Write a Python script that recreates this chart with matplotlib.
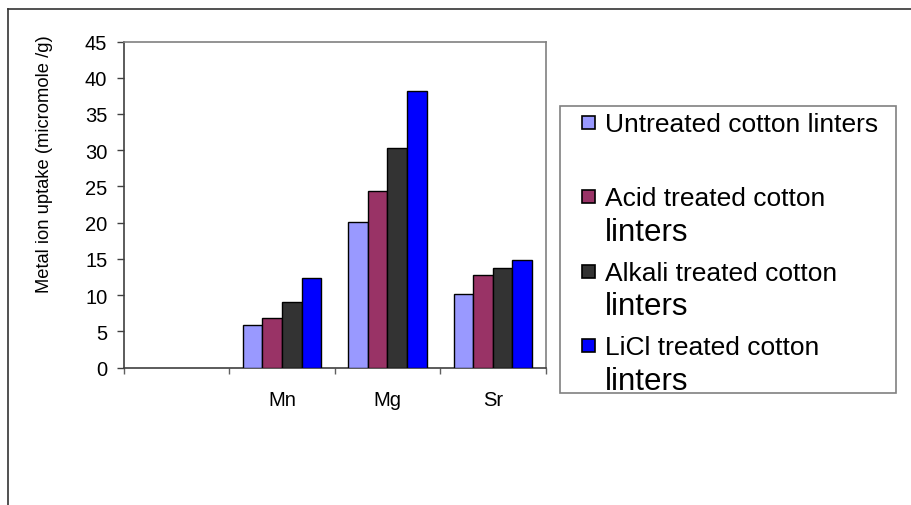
import matplotlib
matplotlib.use("Agg")
import matplotlib.pyplot as plt
from matplotlib.patches import Rectangle
from matplotlib.lines import Line2D
import numpy as np

plt.rcParams['font.family'] = ['Liberation Sans', 'DejaVu Sans']

# ---- data ----
metals = ["Mn", "Mg", "Sr"]
categories = [""] + metals
series_names = ["Untreated cotton linters", "Acid treated cotton linters",
                "Alkali treated cotton linters", "LiCl treated cotton linters"]
untreated = [5.8, 20.1, 10.2]
acid = [6.9, 24.3, 12.7]
alkali = [9.1, 30.3, 13.8]
licl = [12.4, 38.1, 14.9]
y_ticks = [0, 5, 10, 15, 20, 25, 30, 35, 40, 45]
y_label = "Metal ion uptake (micromole /g)"

colors = ["#9999FF", "#993366", "#333333", "#0000FF"]
series = [untreated, acid, alkali, licl]

W, H = 911, 506
fig = plt.figure(figsize=(W / 100, H / 100), dpi=100)


def fx(x):
    return x / W


def fy(y):
    return 1 - y / H


ax_l, ax_r, ax_t, ax_b = 124, 545.5, 42.5, 368.5
ax = fig.add_axes([fx(ax_l), fy(ax_b), fx(ax_r - ax_l), (ax_b - ax_t) / H])

bw = 0.186
x_cat = np.arange(len(categories))
x_metal = x_cat[1:]
for i, (vals, c, name) in enumerate(zip(series, colors, series_names)):
    ax.bar(x_metal + (i - 1.5) * bw, vals, width=bw, color=c,
           edgecolor="black", linewidth=1.0, label=name, zorder=3)

ax.set_xlim(-0.5, len(categories) - 0.5)
ax.set_ylim(0, 45)
ax.set_yticks(y_ticks)
ax.set_yticklabels([str(v) for v in y_ticks], fontsize=14.5)
ax.tick_params(axis="y", direction="out", length=5, width=1, color="#404040", pad=7)

ax.set_xticks(np.arange(-0.5, len(categories), 1.0))
ax.set_xticklabels([])
ax.tick_params(axis="x", which="major", direction="out", length=4, width=1, color="#606060")
ax.set_xticks(x_cat, minor=True)
ax.set_xticklabels(categories, minor=True, fontsize=14.5)
ax.tick_params(axis="x", which="minor", length=0, pad=16)

for s in ["left", "bottom"]:
    ax.spines[s].set_color("#404040")
    ax.spines[s].set_linewidth(1.2)
for s in ["top", "right"]:
    ax.spines[s].set_color("#808080")
    ax.spines[s].set_linewidth(1.2)

fig.text(fx(45), fy(164), y_label, rotation=90, ha="center", va="center", fontsize=13.2)

# outer frame (top and left edges visible)
fig.add_artist(Line2D([fx(8), fx(W)], [fy(10), fy(10)], transform=fig.transFigure,
                      color="#333333", linewidth=1.2))
fig.add_artist(Line2D([fx(8), fx(8)], [fy(10), fy(H)], transform=fig.transFigure,
                      color="#333333", linewidth=1.2))

# legend (drawn manually to match mixed font sizes)
lg_l, lg_r, lg_t, lg_b = 560, 896, 107, 394
fig.add_artist(Rectangle((fx(lg_l), fy(lg_b)), fx(lg_r - lg_l), (lg_b - lg_t) / H,
                         transform=fig.transFigure, facecolor="white",
                         edgecolor="#808080", linewidth=1.2))
base0, step, second = 132, 74.4, 34.5
sq = 13
for i, (name, c) in enumerate(zip(series_names, colors)):
    base = base0 + i * step
    fig.add_artist(Rectangle((fx(582), fy(base - 2)), fx(sq), sq / H,
                             transform=fig.transFigure, facecolor=c,
                             edgecolor="black", linewidth=1.2))
    if i == 0:
        fig.text(fx(605), fy(base), name, fontsize=19, va="baseline", ha="left")
    else:
        first, last = name.rsplit(" ", 1)
        fig.text(fx(605), fy(base), first, fontsize=19, va="baseline", ha="left")
        fig.text(fx(605), fy(base + second), last, fontsize=22.5, va="baseline", ha="left")

fig.savefig("out.png", dpi=100, facecolor="white")
